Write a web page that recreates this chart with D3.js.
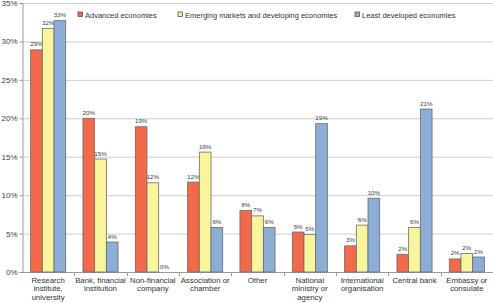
<!DOCTYPE html>
<html><head><meta charset="utf-8">
<script src="https://cdn.jsdelivr.net/npm/d3@7"></script>
<style>body{margin:0;background:#fff}svg{display:block;font-family:"Liberation Sans",Arial,sans-serif}</style>
</head><body><svg id="c" width="493" height="303"></svg>
<script>
const categories = [["Research","institute,","university"],["Bank, financial","institution"],["Non-financial","company"],["Association or","chamber"],["Other"],["National","ministry or","agency"],["International","organisation"],["Central bank"],["Embassy or","consulate"]];
const seriesNames = ["Advanced economies","Emerging markets and developing economies","Least developed economies"];
const advanced = [28.9,20.0,18.9,11.7,8.0,5.2,3.4,2.3,1.7];
const emerging = [31.7,14.7,11.6,15.6,7.3,4.9,6.1,5.8,2.4];
const leastDev = [32.7,3.9,0.0,5.8,5.8,19.3,9.6,21.2,1.95];
const yTicks = [0,5,10,15,20,25,30,35];
const colors = ["#F26A4A","#F8F59C","#8CADD5"];

const series = [advanced, emerging, leastDev];
const svg = d3.select("#c");
const m = {l:22, r:493, t:3, b:272};
const x0 = d3.scaleBand().domain(d3.range(categories.length)).range([m.l, m.r]).paddingInner(0).paddingOuter(0);
const bw = 11.7;
const y = d3.scaleLinear().domain([0,35]).range([m.b, m.t]);

// gridlines
svg.append("g").selectAll("line").data(yTicks.filter(d=>d>0)).join("line")
  .attr("x1", m.l).attr("x2", m.r).attr("y1", d=>y(d)+0.5).attr("y2", d=>y(d)+0.5)
  .attr("stroke","#cfcfcf").attr("stroke-width",1);

// y axis
const ya = svg.append("g").attr("transform",`translate(${m.l+0.5},0)`)
  .call(d3.axisLeft(y).tickValues(yTicks).tickFormat(d=>d+"%").tickSize(3));
ya.select(".domain").attr("stroke","#9a9a9a");
ya.selectAll(".tick line").attr("stroke","#9a9a9a");
ya.selectAll("text").attr("font-size","8px").attr("fill","#404040").attr("x",-5);

// x axis
svg.append("line").attr("x1",m.l).attr("x2",m.r).attr("y1",m.b+0.5).attr("y2",m.b+0.5).attr("stroke","#9a9a9a");
svg.append("g").selectAll("line").data(d3.range(1,categories.length)).join("line")
  .attr("x1",d=>Math.round(x0(d))+0.5).attr("x2",d=>Math.round(x0(d))+0.5)
  .attr("y1",m.b).attr("y2",m.b+4).attr("stroke","#9a9a9a");

// bars
series.forEach((vals,si)=>{
  const g = svg.append("g");
  vals.forEach((v,ci)=>{
    const cx = x0(ci)+x0.bandwidth()/2;
    const bx = cx - 1.5*bw + si*bw;
    if (v>0) g.append("rect").attr("x",bx).attr("y",y(v)).attr("width",bw).attr("height",y(0)-y(v))
      .attr("fill",colors[si]).attr("stroke","#6b6b6b").attr("stroke-width",0.8);
    g.append("text").attr("x",bx+bw/2).attr("y",y(v)-3.5).attr("text-anchor","middle")
      .attr("font-size","6.2px").attr("fill","#404040").text(Math.round(v)+"%");
  });
});

// category labels
categories.forEach((lines,ci)=>{
  const t = svg.append("text").attr("text-anchor","middle").attr("font-size","7.8px").attr("fill","#333");
  lines.forEach((ln,i)=>t.append("tspan").attr("x",x0(ci)+x0.bandwidth()/2).attr("y",282.5+i*8.8).text(ln));
});

// legend
const legX = [78,178,355];
seriesNames.forEach((n,i)=>{
  svg.append("rect").attr("x",legX[i]).attr("y",12).attr("width",4.5).attr("height",4.5)
    .attr("fill",colors[i]).attr("stroke","#555").attr("stroke-width",0.8);
  svg.append("text").attr("x",legX[i]+7).attr("y",17.5).attr("font-size","7.5px").attr("fill","#333").text(n);
});
</script></body></html>
